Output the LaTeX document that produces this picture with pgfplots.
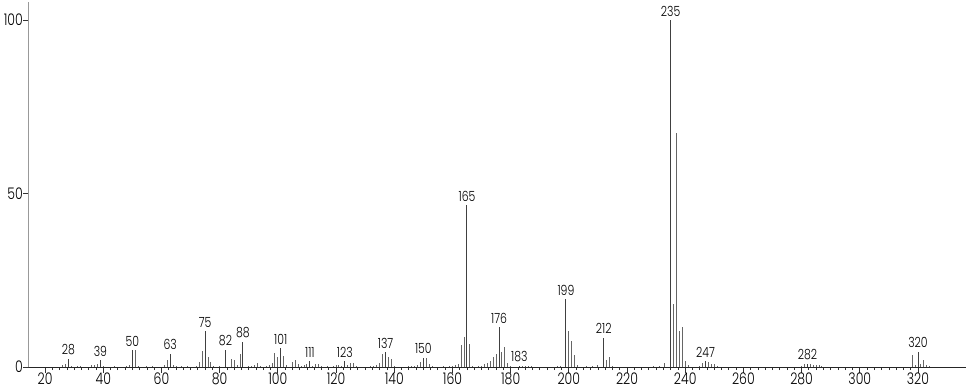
\documentclass[border=0pt]{standalone}
\usepackage{fontspec}
\setmainfont{Poppins}[UprightFont=* Light, Numbers=Proportional, FakeStretch=0.78]
\usepackage{pgfplots}
\pgfplotsset{compat=1.18}
\begin{document}
\begin{tikzpicture}
\begin{axis}[
  scale only axis, width=937.5pt, height=365pt,
  xmin=14.3, xmax=336.5, ymin=0, ymax=105.2,
  axis lines=left,
  x axis line style={-, black!85, line width=0.9pt},
  y axis line style={-, black!40, line width=1.8pt},
  tick align=outside,
  xtick={20,40,...,320}, minor x tick num=7,
  ytick={0,50,100},
  major tick length=5.5pt, minor tick length=3pt,
  every tick/.style={black!80, line width=0.8pt},
  /pgf/number format/assume math mode=true,
  tick label style={font=\fontsize{16}{18}\selectfont},
  yticklabel style={inner sep=0pt, anchor=east},
  xticklabel style={inner sep=0pt, anchor=north},
  clip=false,
]
\addplot[ycomb, draw=black!60, line width=1pt, mark=none] coordinates {
(26,0.7)(27,1.0)(29,0.3)(31,0.3)(32,0.2)(36,0.5)(37,0.6)(38,0.9)(40,0.3)(44,0.3)(48,0.3)(49,0.6)
(51,4.9)(52,0.3)(55,0.3)(57,0.3)(61,0.5)(62,1.9)(64,0.6)(65,0.2)(67,0.2)(69,0.3)(72,0.3)(73,1.5)
(74,4.7)(76,3.0)(77,1.3)(78,0.3)(80,0.3)(84,2.4)(85,2.1)(86,0.5)(87,3.8)(90,0.3)(91,0.3)(92,0.5)
(93,1.2)(94,0.3)(96,0.3)(97,0.5)(98,1.2)(99,4.0)(100,3.0)(102,3.2)(103,0.5)(105,1.3)(106,2.0)
(107,0.8)(108,0.3)(109,0.5)(110,0.8)(112,0.4)(113,1.0)(114,0.8)(115,0.3)(117,0.3)(119,0.3)
(120,0.5)(121,0.5)(122,0.3)(124,0.6)(125,1.2)(126,1.2)(127,0.3)(132,0.3)(133,0.3)(134,0.5)
(135,1.2)(136,3.8)(138,2.8)(139,2.3)(140,0.3)(145,0.2)(146,0.3)(147,0.3)(148,0.5)(149,1.3)
(151,2.7)(152,1.0)(153,0.3)(157,0.2)(159,0.3)(160,0.3)(161,0.5)(162,1.0)(163,6.4)(164,8.7)
(166,6.7)(167,0.4)(169,0.3)(170,0.3)(171,1.0)(172,1.2)(173,1.8)(174,2.9)(175,3.8)(177,4.2)
(178,5.8)(179,1.2)(180,0.3)(184,0.3)(185,0.3)(186,0.3)(187,0.3)(196,0.3)(197,0.3)(200,10.5)
(201,7.6)(202,3.5)(203,0.5)(206,0.2)(208,0.3)(210,0.5)(213,2.1)(214,3.0)(215,0.3)(229,0.2)
(231,0.3)(233,1.2)(236,18.2)(237,67.4)(238,10.3)(239,11.6)(240,1.8)(241,0.5)(245,0.3)(246,1.1)
(248,1.4)(249,1.0)(250,0.8)(251,0.3)(280,0.3)(281,0.8)(283,1.0)(284,0.7)(285,0.5)(286,0.5)
(287,0.4)(318,3.5)(319,0.5)(321,0.8)(322,2.1)(323,0.5)(324,0.3)
};
\addplot[ycomb, draw=black!75, line width=1pt, mark=none,
  nodes near coords, point meta=x,
  nodes near coords style={anchor=south, inner sep=0pt, yshift=3.3pt, text=black,
    font=\fontsize{14}{16}\selectfont}] coordinates {
(28,2.3)(39,1.9)(50,4.9)(63,3.8)(75,10.3)(82,4.9)(88,7.3)(101,5.5)(111,1.6)(123,1.6)
(137,4.3)(150,2.7)(165,46.7)(176,11.5)(183,0.4)(199,19.5)(212,8.5)(235,100)(247,1.7)
(282,1.0)(320,4.4)
};
\end{axis}
\pgfresetboundingbox
\path (-28.5pt,-22pt) rectangle (937.5pt,367pt);
\end{tikzpicture}
\end{document}
